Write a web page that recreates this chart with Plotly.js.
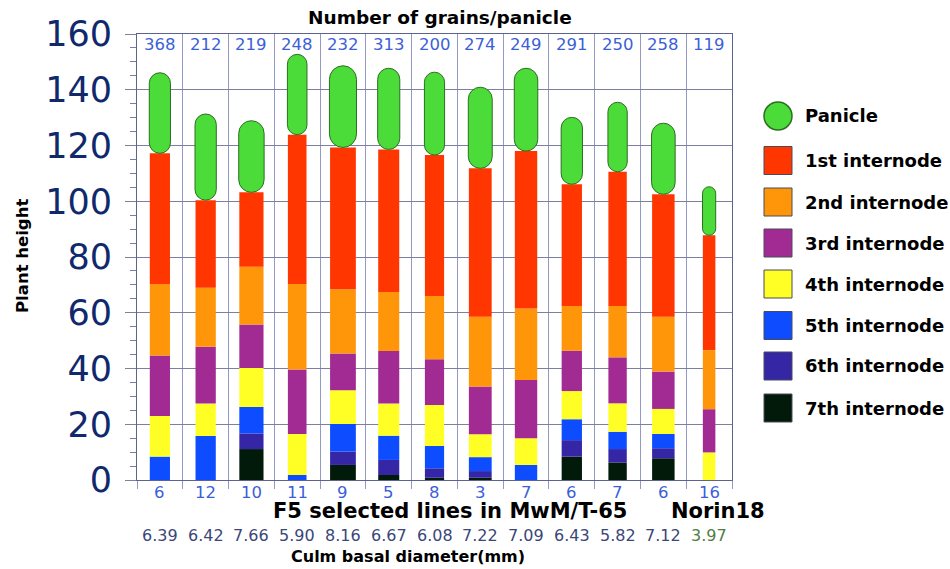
<!DOCTYPE html>
<html><head><meta charset="utf-8">
<script src="https://cdn.plot.ly/plotly-3.0.1.min.js"></script>
<style>html,body{margin:0;padding:0;background:#fff}#chart{width:950px;height:569px}</style>
</head><body><div id="chart"></div>
<script>
// ---- data ----
const grainsPerPanicle = [368, 212, 219, 248, 232, 313, 200, 274, 249, 291, 250, 258, 119];
const plantCount       = [6, 12, 10, 11, 9, 5, 8, 3, 7, 6, 7, 6, 16];
const culmDiameter     = [6.39, 6.42, 7.66, 5.90, 8.16, 6.67, 6.08, 7.22, 7.09, 6.43, 5.82, 7.12, 3.97];
// internode lengths, bottom (7th) to top (1st), and panicle length
const internode7 = [0, 0, 11.1, 0, 5.4, 1.8, 0.8, 0.8, 0, 8.4, 6.3, 7.8, 0];
const internode6 = [0, 0, 5.6, 0, 4.8, 5.4, 3.4, 2.4, 0, 5.9, 4.8, 3.6, 0];
const internode5 = [8.4, 15.8, 9.5, 1.8, 9.9, 8.7, 8.0, 5.0, 5.4, 7.5, 6.2, 5.1, 0];
const internode4 = [14.6, 11.6, 14.0, 14.7, 12.1, 11.5, 14.7, 8.2, 9.6, 10.1, 10.2, 9.0, 9.9];
const internode3 = [21.7, 20.4, 15.6, 23.1, 13.2, 18.9, 16.4, 17.1, 20.9, 14.5, 16.5, 13.4, 15.5];
const internode2 = [25.6, 21.2, 20.7, 30.7, 23.0, 21.1, 22.7, 25.1, 25.6, 16.0, 18.4, 19.7, 21.2];
const internode1 = [46.9, 31.4, 26.7, 53.6, 50.9, 51.2, 50.6, 53.2, 56.5, 43.7, 48.2, 43.9, 41.2];
const panicle    = [28.9, 30.9, 25.7, 28.8, 29.3, 29.1, 29.7, 29.1, 29.7, 24.0, 24.9, 25.5, 17.4];
const seriesNames = ['7th internode','6th internode','5th internode','4th internode','3rd internode','2nd internode','1st internode'];
const legendNames = ['Panicle','1st internode','2nd internode','3rd internode','4th internode','5th internode','6th internode','7th internode'];

// ---- styles ----
const colors = {
  '7th internode':'#021a0a','6th internode':'#3526a6','5th internode':'#0d4cff',
  '4th internode':'#ffff26','3rd internode':'#a12b92','2nd internode':'#ff9508',
  '1st internode':'#ff3600','Panicle':'#4bdc3a'
};
const panicleLine = '#2d6e21';

const xs = culmDiameter.map((_, i) => i);
const widths = culmDiameter.map(d => d * 0.069);
const series = [internode7, internode6, internode5, internode4, internode3, internode2, internode1];

const traces = [];
let cum = xs.map(() => 0);
series.forEach((vals, k) => {
  traces.push({
    type: 'bar', x: xs, y: vals, base: cum.slice(), width: widths,
    marker: {color: colors[seriesNames[k]], line: {width: 0}},
    showlegend: false, hoverinfo: 'skip'
  });
  cum = cum.map((c, i) => c + vals[i]);
});
// panicle: a bar with explicit base and 50% corner radius -> capsule
traces.push({type:'bar', x: xs, y: panicle, base: cum.slice(), width: widths.map(w => w * 1.05),
  marker:{color: colors['Panicle'], cornerradius:'50%', line:{color: panicleLine, width:1}},
  showlegend:false, hoverinfo:'skip'});

// ---- annotations ----
const ann = [];
const L = 137, PW = 595, T = 34, PH = 446, B = 480;
const px = p => (p - L) / PW;   // pixel -> paper x
const py = p => (B - p) / PH;   // pixel -> paper y
const numFont = (s, c) => ({family:'DejaVu Sans', size:s, color:c});
grainsPerPanicle.forEach((g, i) => ann.push({x: i, xref:'x', y: py(45), yref:'paper', text: String(g),
  showarrow:false, xanchor:'center', yanchor:'middle', font: numFont(16.5, '#3c5fd8')}));
plantCount.forEach((c, i) => ann.push({x: i, xref:'x', y: py(492), yref:'paper', text: String(c),
  showarrow:false, xanchor:'center', yanchor:'middle', font: numFont(16.5, '#3c5fd8')}));
culmDiameter.forEach((d, i) => ann.push({x: i, xref:'x', y: py(535), yref:'paper', text: d.toFixed(2),
  showarrow:false, xanchor:'center', yanchor:'middle',
  font: numFont(16, i === culmDiameter.length - 1 ? '#4f7e3f' : '#3b4679')}));
const bold = (s, c) => ({family:'DejaVu Sans', size:s, color:c || '#000', weight:'bold'});
const label = (text, x, y, size, extra) => Object.assign({x: px(x), y: py(y), xref:'paper', yref:'paper',
  text:'<b>' + text + '</b>', showarrow:false, xanchor:'center', yanchor:'middle', font: bold(size)}, extra || {});
ann.push(label('Number of grains/panicle', 440, 18, 18.5));
ann.push(label('F5 selected lines in MwM/T-65', 450, 511, 21));
ann.push(label('Norin18', 718, 511, 21));
ann.push(label('Culm basal diameter(mm)', 408, 556, 16));
ann.push(label('Plant height', 22, 256, 16.5, {textangle:-90}));

// ---- manual legend ----
const shapes = [];
const itemY = [116, 160.5, 202, 243, 284, 325.5, 366, 408];
legendNames.forEach((n, k) => {
  const cy = itemY[k];
  shapes.push({type: k === 0 ? 'circle' : 'rect', xref:'paper', yref:'paper',
    x0: px(764), x1: px(792), y0: py(cy + 14), y1: py(cy - 14),
    fillcolor: colors[n], line: k === 0 ? {color: panicleLine, width:1.5} : {color:'#4a4a5a', width:1}});
  ann.push(label(n, 803, cy, 18, {xanchor:'left'}));
});

const gridH = '#7b7fa3', gridV = '#9498c4', axisC = '#5c6291';
const layout = {
  width: 950, height: 569, paper_bgcolor:'#fff', plot_bgcolor:'#fff',
  margin:{l: L, r: 950 - L - PW, t: T, b: 569 - B},
  barmode:'overlay', showlegend:false,
  xaxis:{range:[-0.5, 12.5], tick0:0, dtick:1, showgrid:false, zeroline:false, showticklabels:false, ticks:'',
    showline:true, mirror:true, linecolor: axisC, linewidth:1,
    minor:{tick0:0.5, dtick:1, showgrid:true, gridcolor: gridV, gridwidth:1, ticks:'outside', ticklen:8, tickcolor: gridV},
    fixedrange:true},
  yaxis:{range:[0,160], tickmode:'array', tickvals:[0,20,40,60,80,100,120,140,160],
    tickfont:{family:'DejaVu Sans', size:35, color:'#10296d'},
    showgrid:true, gridcolor: gridH, gridwidth:1, zeroline:false,
    ticks:'outside', ticklen:11, tickcolor: gridH, ticklabelstandoff: 6,
    showline:true, mirror:true, linecolor: axisC, linewidth:1,
    minor:{tickmode:'linear', tick0:0, dtick:5, ticks:'outside', ticklen:6, tickcolor: gridH, showgrid:false},
    fixedrange:true},
  annotations: ann, shapes: shapes
};
Plotly.newPlot('chart', traces, layout, {staticPlot:true, displayModeBar:false});
</script>
</body></html>
